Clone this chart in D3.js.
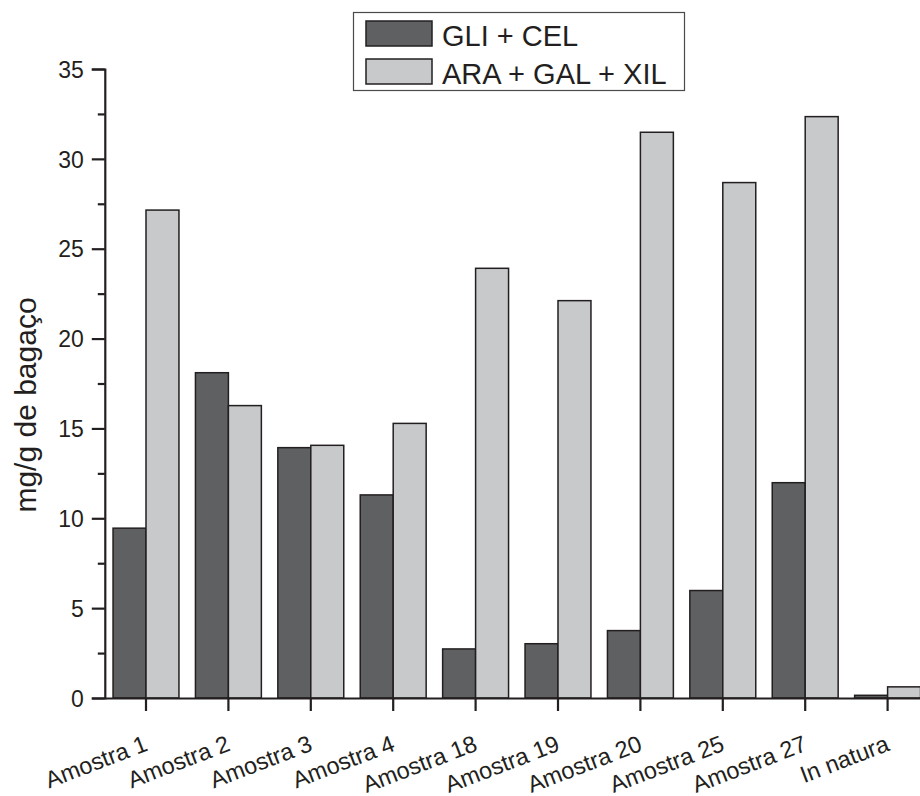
<!DOCTYPE html>
<html>
<head>
<meta charset="utf-8">
<script src="https://cdn.jsdelivr.net/npm/d3@7"></script>
<style>
  html, body { margin: 0; padding: 0; background: #fff; }
  svg { display: block; font-family: "Liberation Sans", Arial, sans-serif; }
</style>
</head>
<body>
<svg id="chart" width="920" height="796"></svg>
<script>
// Sugar content per sample (mg per g of bagasse)
const categories = ["Amostra 1", "Amostra 2", "Amostra 3", "Amostra 4", "Amostra 18",
                    "Amostra 19", "Amostra 20", "Amostra 25", "Amostra 27", "In natura"];
const seriesNames = ["GLI + CEL", "ARA + GAL + XIL"];
const gliCel = [9.45, 18.1, 13.93, 11.3, 2.73, 3.02, 3.75, 5.98, 11.98, 0.15];
const araGalXil = [27.15, 16.27, 14.06, 15.28, 23.91, 22.11, 31.48, 28.68, 32.35, 0.62];
const yTicks = [0, 5, 10, 15, 20, 25, 30, 35];
const yMinorTicks = [2.5, 7.5, 12.5, 17.5, 22.5, 27.5, 32.5];

const colors = ["#5f6062", "#c8c9cb"];
const ink = "#231f20";
const font = "'Liberation Sans', Arial, sans-serif";

const svg = d3.select("#chart");

const x = d3.scaleBand()
  .domain(categories)
  .range([104.8, 928.8])
  .paddingInner(0.2)
  .paddingOuter(0.1);

const xSub = d3.scaleBand()
  .domain(seriesNames)
  .range([0, x.bandwidth()]);

const y = d3.scaleLinear().domain([0, 35]).range([698, 69]);

const rows = categories.map((c, i) => ({ cat: c, values: [gliCel[i], araGalXil[i]] }));

// Bars
const groups = svg.append("g").selectAll("g")
  .data(rows).join("g")
  .attr("transform", d => `translate(${x(d.cat)},0)`);

groups.selectAll("rect")
  .data(d => d.values.map((v, j) => ({ v, name: seriesNames[j], j })))
  .join("rect")
  .attr("x", d => xSub(d.name))
  .attr("y", d => y(d.v))
  .attr("width", xSub.bandwidth())
  .attr("height", d => y(0) - y(d.v))
  .attr("fill", d => colors[d.j])
  .attr("stroke", ink)
  .attr("stroke-width", 1.5);

// Y axis: major ticks with labels
const yAxis = svg.append("g")
  .attr("transform", `translate(${x.range()[0]},0)`)
  .call(d3.axisLeft(y).tickValues(yTicks).tickSize(13).tickPadding(8).tickFormat(d3.format("d")));
yAxis.select(".domain").attr("stroke", ink).attr("stroke-width", 2.2);
yAxis.selectAll(".tick line").attr("stroke", ink).attr("stroke-width", 2.2);
yAxis.selectAll(".tick text").attr("fill", ink).attr("dy", "0.36em")
  .style("font-size", "23px").style("font-family", font);

// Y axis: minor ticks
svg.append("g")
  .attr("transform", `translate(${x.range()[0]},0)`)
  .call(d3.axisLeft(y).tickValues(yMinorTicks).tickSize(7).tickFormat(""))
  .call(g => g.select(".domain").remove())
  .selectAll(".tick line").attr("stroke", ink).attr("stroke-width", 2.2);

// X axis
const xAxis = svg.append("g")
  .attr("transform", `translate(0,${y(0)})`)
  .call(d3.axisBottom(x).tickSize(13).tickSizeOuter(0).tickFormat(""));
xAxis.select(".domain").attr("stroke", ink).attr("stroke-width", 2.2);
xAxis.selectAll(".tick line").attr("stroke", ink).attr("stroke-width", 2.2);

// Rotated category labels
svg.append("g").selectAll("text")
  .data(categories).join("text")
  .attr("transform", d => `translate(${x(d) + x.bandwidth() / 2 + 3},750) rotate(-21)`)
  .attr("text-anchor", "end")
  .attr("fill", ink)
  .style("font-size", "23.5px")
  .style("font-family", font)
  .text(d => d);

// Y axis title
svg.append("text")
  .attr("transform", "translate(36,405) rotate(-90)")
  .attr("text-anchor", "middle")
  .attr("fill", ink)
  .style("font-size", "30px")
  .style("font-family", font)
  .text("mg/g de bagaço");

// Legend
const legend = svg.append("g");
legend.append("rect")
  .attr("x", 353.5).attr("y", 12.5).attr("width", 331).attr("height", 78)
  .attr("fill", "#fff").attr("stroke", "#4a4a4a").attr("stroke-width", 1.2);
const items = legend.selectAll("g.item")
  .data(seriesNames).join("g").attr("class", "item")
  .attr("transform", (d, i) => `translate(366,${21 + i * 38})`);
items.append("rect")
  .attr("width", 66).attr("height", 25)
  .attr("fill", (d, i) => colors[i])
  .attr("stroke", ink).attr("stroke-width", 1.5);
items.append("text")
  .attr("x", 76).attr("y", 25)
  .attr("fill", ink)
  .style("font-size", "29px")
  .style("font-family", font)
  .text(d => d);
</script>
</body>
</html>
